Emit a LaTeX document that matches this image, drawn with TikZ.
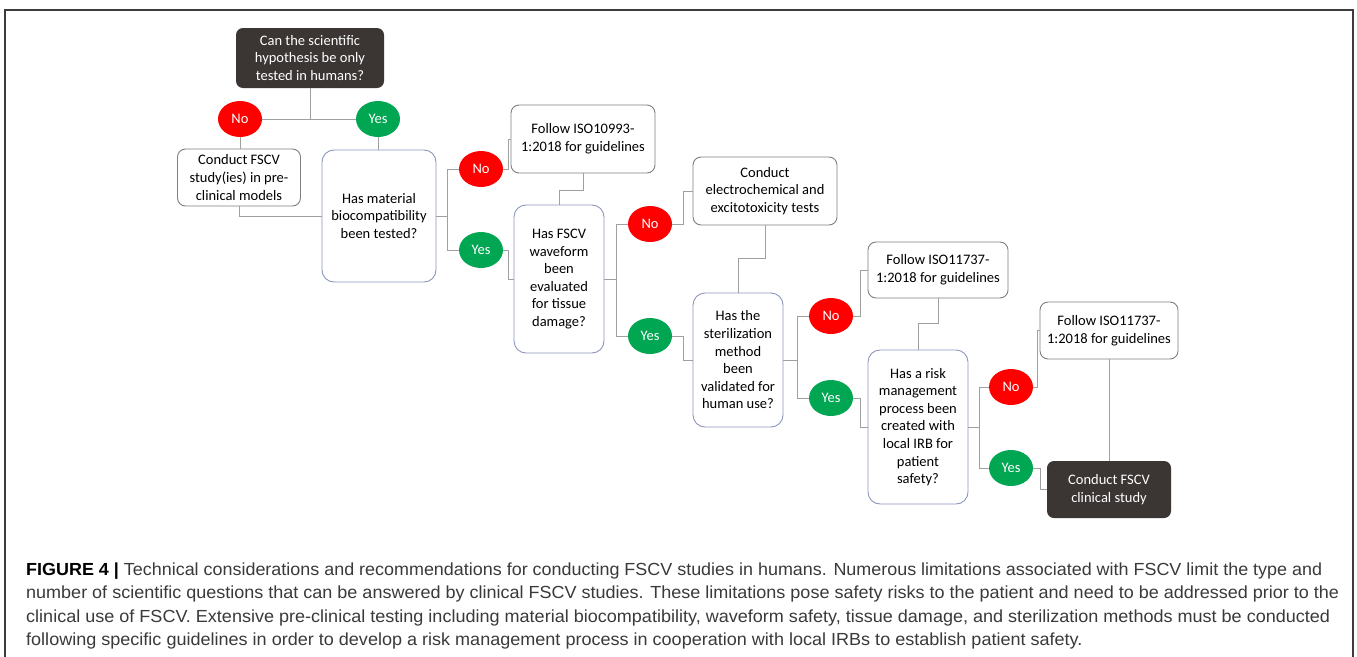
\documentclass[tikz,border=0pt]{standalone}
\usepackage{fontspec}
\usepackage{graphicx}
\usetikzlibrary{shapes.geometric,calc}
\newfontfamily\boxfont{Carlito}
\newfontfamily\capfont{Liberation Sans}
\definecolor{darkboxcol}{HTML}{3B3534}
\definecolor{conncol}{HTML}{A0A0A0}
\definecolor{boxline}{HTML}{7F7F7F}
\definecolor{decline}{HTML}{8C96BE}
\definecolor{nored}{HTML}{FF0000}
\definecolor{yesgreen}{HTML}{00A651}
\definecolor{framecol}{HTML}{3C3C3C}
\definecolor{captext}{HTML}{3A3A3A}
\newlength\capwd
\newcommand\capline[2]{%
  \settowidth\capwd{#2}%
  \pgfmathsetmacro\capsx{#1/\capwd}%
  \global\let\lastsx\capsx
  \scalebox{\capsx}[1]{#2}}
\begin{document}
\begin{tikzpicture}[x=1pt,y=-1pt,
  txt/.style={font=\boxfont\fontsize{14.5}{17.6}\selectfont, align=center, inner sep=0pt},
  actbox/.style={txt, draw=boxline, line width=0.9pt, rounded corners=8pt, fill=white},
  decbox/.style={txt, draw=decline, line width=0.9pt, rounded corners=12pt, fill=white},
  darkbox/.style={txt, fill=darkboxcol, text=white, rounded corners=7pt},
  nobub/.style={txt, ellipse, fill=nored, text=white, minimum width=44pt, minimum height=36pt},
  yesbub/.style={txt, ellipse, fill=yesgreen, text=white, minimum width=44pt, minimum height=36pt},
  conn/.style={draw=conncol, line width=1pt},
  capt/.style={font=\capfont\fontsize{17.5}{23}\selectfont, text=captext, anchor=base west, inner sep=0pt}
]
\useasboundingbox (0,0) rectangle (1357,656);
\fill[white] (0,0) rectangle (1357,656);
\draw[framecol, line width=1.4pt] (5,660) -- (5,10) -- (1353,10) -- (1353,660);

% nodes
\node[darkbox, minimum width=148pt, minimum height=60pt] (q1) at (310,58)
  {Can the scientific\\hypothesis be only\\tested in humans?};
\node[nobub] (no1) at (240,119) {No};
\node[yesbub] (yes1) at (378,119) {Yes};
\node[actbox, minimum width=123pt, minimum height=57pt] (c1) at (239,177.5)
  {Conduct FSCV\\study(ies) in pre-\\clinical models};
\node[decbox, minimum width=114pt, minimum height=132pt] (hm) at (379,216)
  {Has material\\biocompatibility\\been tested?};
\node[nobub] (no2) at (481,169) {No};
\node[yesbub] (yes2) at (481,250) {Yes};
\node[actbox, minimum width=144pt, minimum height=68pt] (f1) at (583,139)
  {Follow ISO10993-\\1:2018 for guidelines};
\node[decbox, minimum width=90pt, minimum height=148pt] (wf) at (559,279)
  {Has FSCV\\waveform\\been\\evaluated\\for tissue\\damage?};
\node[nobub] (no3) at (650,224) {No};
\node[yesbub] (yes3) at (650,336) {Yes};
\node[actbox, minimum width=144pt, minimum height=68pt] (ce) at (765,191)
  {Conduct\\electrochemical and\\excitotoxicity tests};
\node[decbox, minimum width=90pt, minimum height=134pt] (st) at (738,360)
  {Has the\\sterilization\\method\\been\\validated for\\human use?};
\node[nobub] (no4) at (831,316) {No};
\node[yesbub] (yes4) at (831,398) {Yes};
\node[actbox, minimum width=140pt, minimum height=56pt] (f2) at (938,270)
  {Follow ISO11737-\\1:2018 for guidelines};
\node[decbox, minimum width=100pt, minimum height=154pt] (rk) at (918,427)
  {Has a risk\\management\\process been\\created with\\local IRB for\\patient\\safety?};
\node[nobub] (no5) at (1011,387) {No};
\node[yesbub] (yes5) at (1011,468) {Yes};
\node[actbox, minimum width=138pt, minimum height=57pt] (f3) at (1109,330.5)
  {Follow ISO11737-\\1:2018 for guidelines};
\node[darkbox, minimum width=124pt, minimum height=57pt] (fin) at (1109,489.5)
  {Conduct FSCV\\clinical study};

% connectors
\draw[conn] (q1.south) -- (q1.south |- no1.east);
\draw[conn] (no1.east) -- (yes1.west);
\draw[conn] (no1.south) -- (no1.south |- c1.north);
\draw[conn] (yes1.south) -- (yes1.south |- hm.north);
\draw[conn] (c1.south) |- (hm.west);

\draw[conn] (hm.east) -- ++(11,0) coordinate (j1);
\draw[conn] (no2.west) -| (j1) |- (yes2.west);
\draw[conn] (no2.east) -- ++(5,0) |- (f1.west);
\draw[conn] (yes2.east) -- ++(5,0) |- (wf.west);
\draw[conn] (f1.south) -- ++(0,17) -| (wf.north);

\draw[conn] (wf.east) -- ++(12,0) coordinate (j2);
\draw[conn] (no3.west) -| (j2) |- (yes3.west);
\draw[conn] (no3.east) -- ++(11,0) |- (ce.west);
\draw[conn] (yes3.east) -- ++(11,0) |- (st.west);
\draw[conn] (ce.south) -- ++(0,33) -| (st.north);

\draw[conn] (st.east) -- ++(14,0) coordinate (j3);
\draw[conn] (no4.west) -| (j3) |- (yes4.west);
\draw[conn] (no4.east) -- ++(7,0) |- (f2.west);
\draw[conn] (yes4.east) -- ++(7,0) |- (rk.west);
\draw[conn] (f2.south) -- ++(0,25) -| (rk.north);

\draw[conn] (rk.east) -- ++(11,0) coordinate (j4);
\draw[conn] (no5.west) -| (j4) |- (yes5.west);
\draw[conn] (no5.east) -- ++(4,0) |- (f3.west);
\draw[conn] (yes5.east) -- ++(7,0) |- (fin.west);
\draw[conn] (f3.south) -- (fin.north);

% caption
\node[capt] (cap1) at (26,575) {\capline{1296}{{\color{black}\bfseries FIGURE 4 |} Technical considerations and recommendations for conducting FSCV studies in humans. Numerous limitations associated with FSCV limit the type and}};
\node[capt] (cap2) at (26,598.5) {\capline{1313}{number of scientific questions that can be answered by clinical FSCV studies. These limitations pose safety risks to the patient and need to be addressed prior to the}};
\node[capt] (cap3) at (26,622) {\capline{1304}{clinical use of FSCV. Extensive pre-clinical testing including material biocompatibility, waveform safety, tissue damage, and sterilization methods must be conducted}};
\node[capt] (cap4) at (26,645.5) {\scalebox{\lastsx}[1]{following specific guidelines in order to develop a risk management process in cooperation with local IRBs to establish patient safety.}};
\end{tikzpicture}
\end{document}
